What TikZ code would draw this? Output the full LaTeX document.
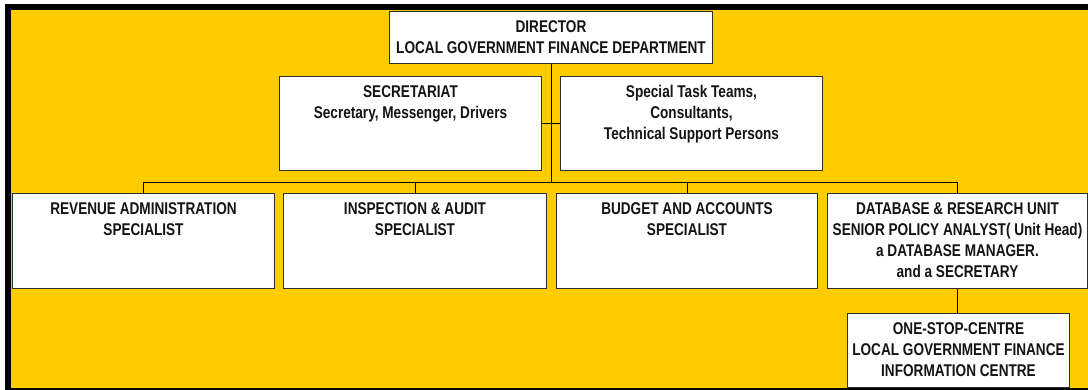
\documentclass[tikz,border=0pt]{standalone}
\usepackage{fontspec}
\newfontfamily\orgfont{Liberation Sans}[FakeStretch=0.8]
\definecolor{panel}{RGB}{255,204,0}
\definecolor{boxline}{RGB}{45,45,45}
\definecolor{ink}{RGB}{20,20,20}
% top-aligned box body: width, height, lines
\newcommand{\boxbody}[3]{\parbox[t][#2pt][t]{#1pt}{\centering\rule{0pt}{21pt}#3}}
\tikzset{
  orgbox/.style={draw=boxline, line width=1pt, fill=white, inner sep=0pt,
    anchor=north west, text=ink,
    font=\orgfont\bfseries\fontsize{17}{21}\selectfont},
  link/.style={draw=black, line width=1pt},
}
\begin{document}
\begin{tikzpicture}[x=1pt, y=-1pt]
  \useasboundingbox (0,0) rectangle (1088,390);
  % framed yellow panel
  \fill[black] (5,4) rectangle (1100,400);
  \fill[panel] (11,10) rectangle (1088,388);

  % boxes
  \node[orgbox] (dir) at (389,11)
    {\boxbody{323}{52}{DIRECTOR\\LOCAL GOVERNMENT FINANCE DEPARTMENT}};
  \node[orgbox] (sec) at (279,76)
    {\boxbody{262}{94}{SECRETARIAT\\Secretary, Messenger, Drivers}};
  \node[orgbox] (spec) at (560,76)
    {\boxbody{262}{94}{Special Task Teams,\\Consultants,\\Technical Support Persons}};
  \node[orgbox] (rev) at (12,193)
    {\boxbody{262}{95}{REVENUE ADMINISTRATION\\SPECIALIST}};
  \node[orgbox] (insp) at (283,193)
    {\boxbody{263}{95}{INSPECTION \& AUDIT\\SPECIALIST}};
  \node[orgbox] (bud) at (556,193)
    {\boxbody{261}{95}{BUDGET AND ACCOUNTS\\SPECIALIST}};
  \node[orgbox] (db) at (827,193)
    {\boxbody{260}{95}{DATABASE \& RESEARCH UNIT\\SENIOR POLICY ANALYST( Unit Head)\\a DATABASE MANAGER.\\and a SECRETARY}};
  \node[orgbox] (osc) at (847,313)
    {\boxbody{222}{74}{ONE-STOP-CENTRE\\LOCAL GOVERNMENT FINANCE\\INFORMATION CENTRE}};

  % connectors
  \coordinate (bus) at (551,183);
  \draw[link] (dir.south) -- (dir.south |- bus);
  \draw[link] (sec.east) -- (spec.west);
  \draw[link] (rev.north) -- (rev.north |- bus) -- (db.north |- bus) -- (db.north);
  \draw[link] (insp.north) -- (insp.north |- bus);
  \draw[link] (bud.north) -- (bud.north |- bus);
  \draw[link] (db.south) -- (db.south |- osc.north);
\end{tikzpicture}
\end{document}
